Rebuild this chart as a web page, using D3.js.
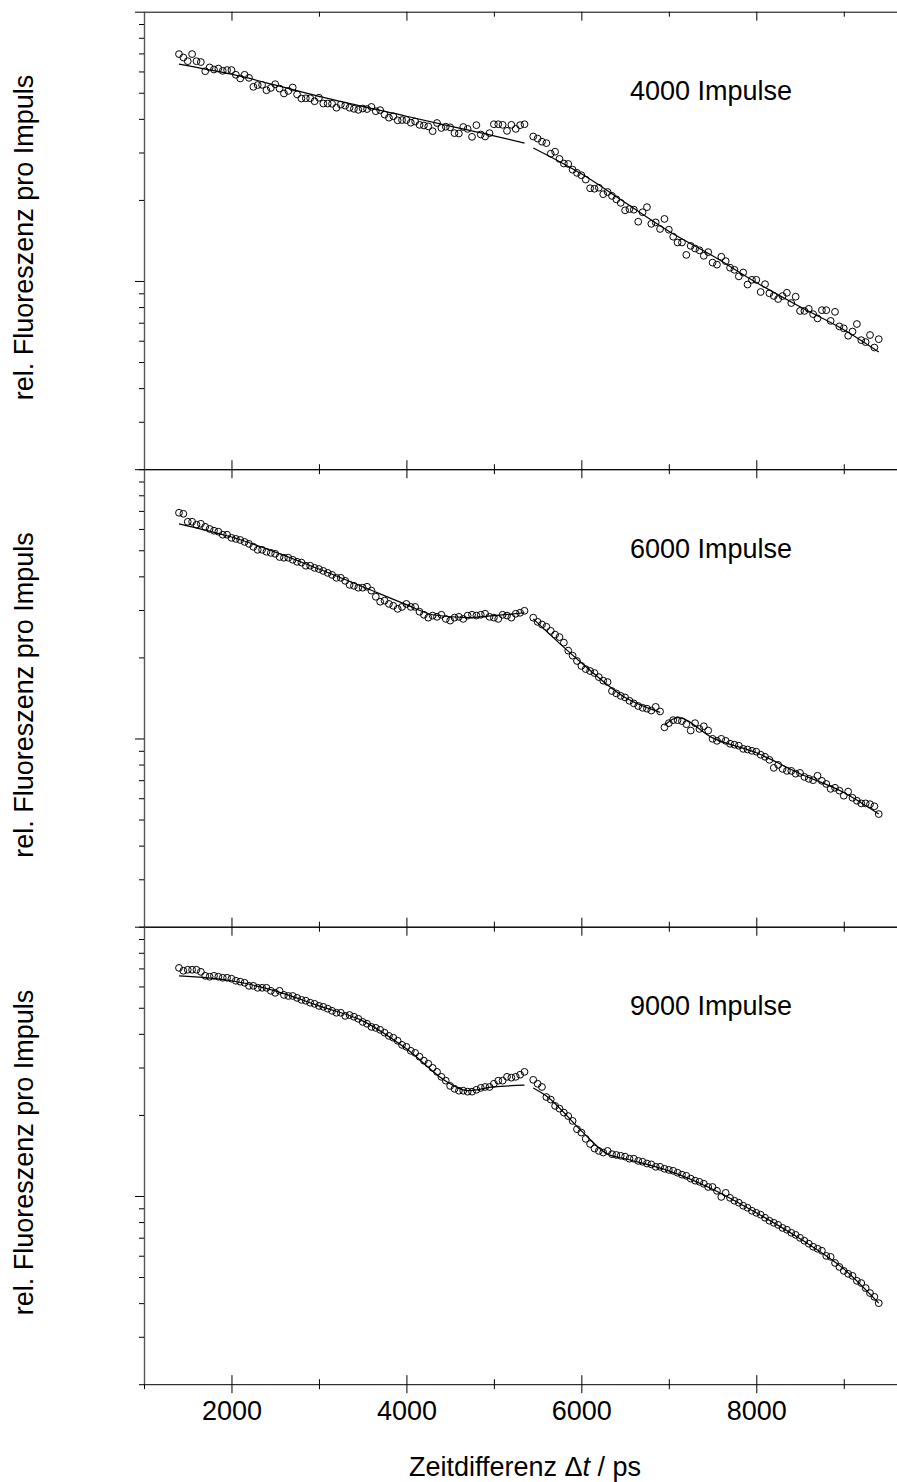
<!DOCTYPE html>
<html>
<head>
<meta charset="utf-8">
<script src="https://cdn.jsdelivr.net/npm/d3@7/dist/d3.min.js"></script>
<style>
	body { margin: 0; background: #fff; }
	svg { display: block; }
	text { font-family: "Liberation Sans", Arial, sans-serif; fill: #000; }
</style>
</head>
<body>
<svg id="chart" width="897" height="1482"></svg>
<script>
// measuring times (ps), one point every 50 ps
const times = [
	1400,1450,1500,1550,1600,1650,1700,1750,1800,1850,
	1900,1950,2000,2050,2100,2150,2200,2250,2300,2350,
	2400,2450,2500,2550,2600,2650,2700,2750,2800,2850,
	2900,2950,3000,3050,3100,3150,3200,3250,3300,3350,
	3400,3450,3500,3550,3600,3650,3700,3750,3800,3850,
	3900,3950,4000,4050,4100,4150,4200,4250,4300,4350,
	4400,4450,4500,4550,4600,4650,4700,4750,4800,4850,
	4900,4950,5000,5050,5100,5150,5200,5250,5300,5350,
	5400,5450,5500,5550,5600,5650,5700,5750,5800,5850,
	5900,5950,6000,6050,6100,6150,6200,6250,6300,6350,
	6400,6450,6500,6550,6600,6650,6700,6750,6800,6850,
	6900,6950,7000,7050,7100,7150,7200,7250,7300,7350,
	7400,7450,7500,7550,7600,7650,7700,7750,7800,7850,
	7900,7950,8000,8050,8100,8150,8200,8250,8300,8350,
	8400,8450,8500,8550,8600,8650,8700,8750,8800,8850,
	8900,8950,9000,9050,9100,9150,9200,9250,9300,9350,
	9400
]

// rel. fluorescence per pulse (null = no point)
const counts_4000 = [
	6.96,6.76,6.55,6.96,6.55,6.50,6.01,6.21,6.10,6.15,
	6.03,6.07,6.07,5.83,5.65,5.83,5.68,5.26,5.34,5.35,
	5.11,5.21,5.38,5.18,4.97,5.08,5.23,4.93,4.76,4.77,
	4.77,4.65,4.79,4.56,4.56,4.55,4.40,4.52,4.48,4.40,
	4.36,4.32,4.37,4.35,4.43,4.27,4.31,4.15,4.04,4.09,
	3.95,3.96,3.96,3.87,3.91,3.80,3.78,3.75,3.60,3.86,
	3.70,3.74,3.72,3.54,3.53,3.73,3.67,3.43,3.79,3.50,
	3.44,3.54,3.82,3.82,3.80,3.61,3.80,3.67,3.79,3.82,
	null,3.44,3.38,3.29,3.25,2.97,3.02,2.84,2.73,2.72,
	2.59,2.52,2.47,2.38,2.21,2.20,2.22,2.10,2.14,2.07,
	2.01,1.95,1.83,1.85,1.84,1.66,1.80,1.88,1.63,1.65,
	1.56,1.70,1.55,1.46,1.39,1.39,1.25,1.35,1.32,1.30,
	1.24,1.28,1.17,1.15,1.23,1.185,1.12,1.10,1.04,1.075,
	0.97,1.01,1.01,0.91,0.973,0.90,0.88,0.857,0.879,0.904,
	0.828,0.874,0.774,0.774,0.788,0.753,0.726,0.779,0.779,0.711,
	0.768,0.678,0.667,0.626,0.649,0.692,0.603,0.593,0.630,0.566,
	0.608
]

const counts_6000 = [
	6.89,6.83,6.38,6.38,6.22,6.27,6.11,6.00,5.91,5.86,
	5.71,5.71,5.56,5.51,5.46,5.37,5.28,5.15,5.02,5.02,
	4.935,4.89,4.85,4.72,4.69,4.69,4.61,4.53,4.50,4.38,
	4.38,4.30,4.26,4.19,4.12,4.05,3.95,3.95,3.85,3.72,
	3.69,3.63,3.63,3.66,3.54,3.36,3.22,3.25,3.16,3.11,
	3.03,3.08,3.16,3.08,3.08,2.955,2.88,2.81,2.86,2.83,
	2.88,2.78,2.74,2.81,2.83,2.78,2.86,2.88,2.86,2.88,
	2.905,2.83,2.81,2.78,2.88,2.86,2.81,2.905,2.93,2.98,
	null,2.81,2.71,2.65,2.60,2.51,2.43,2.38,2.27,2.12,
	2.03,1.94,1.86,1.81,1.78,1.75,1.69,1.64,1.62,1.50,
	1.47,1.44,1.42,1.38,1.35,1.32,1.30,1.29,1.27,1.31,
	1.26,1.10,1.14,1.17,1.17,1.16,1.13,1.07,1.14,1.085,
	1.11,1.07,0.997,0.98,0.997,0.98,0.956,0.948,0.94,0.915,
	0.91,0.90,0.893,0.87,0.855,0.833,0.778,0.798,0.771,0.758,
	0.758,0.74,0.745,0.72,0.708,0.70,0.727,0.696,0.678,0.65,
	0.656,0.64,0.613,0.635,0.602,0.587,0.574,0.574,0.57,0.56,
	0.524
]

const counts_9000 = [
	7.03,6.86,6.92,6.92,6.92,6.80,6.57,6.52,6.57,6.52,
	6.46,6.46,6.41,6.30,6.25,6.19,6.03,6.03,5.93,5.93,
	5.93,5.78,5.68,5.78,5.58,5.53,5.53,5.44,5.35,5.31,
	5.22,5.17,5.08,5.04,4.96,4.87,4.79,4.79,4.665,4.70,
	4.63,4.55,4.43,4.36,4.245,4.21,4.14,4.04,3.93,3.87,
	3.77,3.64,3.58,3.46,3.40,3.29,3.18,3.10,2.99,2.89,
	2.77,2.68,2.563,2.50,2.46,2.46,2.44,2.44,2.48,2.52,
	2.54,2.54,2.61,2.68,2.68,2.77,2.75,2.77,2.82,2.89,
	null,2.70,2.61,2.54,2.33,2.28,2.16,2.11,2.04,1.98,
	1.90,1.77,1.72,1.63,1.56,1.50,1.47,1.45,1.47,1.43,
	1.42,1.41,1.40,1.375,1.375,1.35,1.34,1.32,1.31,1.283,
	1.283,1.262,1.25,1.24,1.22,1.20,1.188,1.16,1.14,1.129,
	1.11,1.08,1.08,1.045,0.992,1.027,0.984,0.96,0.944,0.92,
	0.904,0.881,0.866,0.852,0.83,0.809,0.795,0.781,0.761,0.749,
	0.73,0.717,0.699,0.682,0.665,0.648,0.637,0.626,0.599,0.594,
	0.564,0.545,0.527,0.514,0.505,0.484,0.475,0.455,0.436,0.422,
	0.40
]

// fitted curves, [time, value], one list per unbroken piece
const fit_4000 = [
	[[1400,6.39],[2000,5.86],[3000,4.85],[4000,4.09],[4500,3.76],[5000,3.46],[5350,3.25]],
	[[5450,3.12],[5800,2.72],[6000,2.50],[6500,1.955],[7000,1.529],[7500,1.24],[8000,0.987],[8500,0.802],[9000,0.659],[9400,0.545]]
]
const fit_6000 = [
	[[1400,6.27],[2000,5.60],[3000,4.26],[3500,3.66],[4000,3.14],[4300,2.88],[4700,2.81],[5000,2.86],[5350,2.93]],
	[[5450,2.78],[6000,1.91],[6500,1.42],[6900,1.25]],
	[[6950,1.12],[7100,1.195],[7500,1.005],[8000,0.885],[8500,0.74],[9000,0.63],[9400,0.524]]
]
const fit_9000 = [
	[[1400,6.57],[2000,6.30],[2500,5.78],[3000,5.08],[3500,4.47],[4000,3.52],[4500,2.61],[4700,2.46],[5000,2.54],[5350,2.58]],
	[[5450,2.52],[5600,2.353],[6000,1.745],[6300,1.43],[6500,1.375],[7000,1.24],[7500,1.06],[8000,0.866],[8500,0.693],[9000,0.536],[9400,0.40]]
]

const panel_labels = ['4000 Impulse', '6000 Impulse', '9000 Impulse']
const x_major = [2000, 4000, 6000, 8000]
const x_minor = [1000, 3000, 5000, 7000, 9000]
const y_major = [1, 10]
const y_minor = [0.2,0.3,0.4,0.5,0.6,0.7,0.8,0.9,2,3,4,5,6,7,8,9]

const panels = [
	{ counts: counts_4000, fit: fit_4000, label: panel_labels[0] },
	{ counts: counts_6000, fit: fit_6000, label: panel_labels[1] },
	{ counts: counts_9000, fit: fit_9000, label: panel_labels[2] }
]

// layout
const top0 = 11.7
const panel_h = 457.5
const left = 144
const font_size = 27

const svg = d3.select('#chart')

const x = d3.scaleLinear()
	.domain([1000, 9620])
	.range([left, 898])

function style_axis(g, keep_domain){
	g.selectAll('.tick line').attr('stroke', '#000').attr('stroke-width', 1)
	if (!keep_domain) g.select('.domain').remove()
	else g.select('.domain').attr('stroke', '#000').attr('stroke-width', 1)
}

panels.forEach(function (p, k) {
	const top = top0 + k * panel_h
	const bottom = top + panel_h

	const y = d3.scaleLog()
		.domain([0.2, 10])
		.range([bottom, top])

	const g = svg.append('g')

	// top edge: ticks pointing down into the panel
	g.append('g')
		.attr('transform', 'translate(0,' + top + ')')
		.call(d3.axisBottom(x).tickValues(x_major).tickSize(9).tickSizeOuter(0).tickFormat(''))
		.call(a => style_axis(a, true))
	g.append('g')
		.attr('transform', 'translate(0,' + top + ')')
		.call(d3.axisBottom(x).tickValues(x_minor).tickSize(5).tickFormat(''))
		.call(a => style_axis(a, false))

	// bottom edge: ticks pointing up
	g.append('g')
		.attr('transform', 'translate(0,' + bottom + ')')
		.call(d3.axisTop(x).tickValues(x_major).tickSize(9).tickSizeOuter(0).tickFormat(''))
		.call(a => style_axis(a, true))
	g.append('g')
		.attr('transform', 'translate(0,' + bottom + ')')
		.call(d3.axisTop(x).tickValues(x_minor).tickSize(5).tickFormat(''))
		.call(a => style_axis(a, false))

	// left axis, log scale, no labels
	g.append('g')
		.attr('transform', 'translate(' + left + ',0)')
		.call(d3.axisLeft(y).tickValues(y_major).tickSize(9).tickSizeOuter(0).tickFormat(''))
		.call(function (a) {
			a.selectAll('.tick line').attr('stroke', '#000')
			a.select('.domain').attr('stroke', '#555').attr('stroke-width', 1.4)
		})
	g.append('g')
		.attr('transform', 'translate(' + left + ',0)')
		.call(d3.axisLeft(y).tickValues(y_minor).tickSize(5).tickFormat(''))
		.call(a => style_axis(a, false))

	// fitted curve pieces
	const line = d3.line()
		.x(d => x(d[0]))
		.y(d => y(d[1]))
		.curve(d3.curveMonotoneX)

	p.fit.forEach(function (piece) {
		g.append('path')
			.attr('d', line(piece))
			.attr('fill', 'none')
			.attr('stroke', '#000')
			.attr('stroke-width', 1.2)
	})

	// measured points
	const pts = times.map((t, i) => [t, p.counts[i]]).filter(d => d[1] != null)
	g.selectAll('circle.pt')
		.data(pts)
		.enter()
		.append('circle')
		.attr('class', 'pt')
		.attr('cx', d => x(d[0]))
		.attr('cy', d => y(d[1]))
		.attr('r', 3.4)
		.attr('fill', 'none')
		.attr('stroke', '#000')
		.attr('stroke-width', 1)

	g.append('text')
		.attr('x', 630)
		.attr('y', top + 88.3)
		.attr('font-size', font_size)
		.text(p.label)

	g.append('text')
		.attr('transform', 'translate(33,' + (top + 225.8) + ') rotate(-90)')
		.attr('text-anchor', 'middle')
		.attr('font-size', font_size)
		.text('rel. Fluoreszenz pro Impuls')

	// bottom panel: ticks also below, with labels
	if (k == panels.length - 1){
		g.append('g')
			.attr('transform', 'translate(0,' + bottom + ')')
			.call(d3.axisBottom(x).tickValues(x_major).tickSize(9).tickPadding(8).tickSizeOuter(0).tickFormat(d3.format('d')))
			.call(function (a) {
				style_axis(a, false)
				a.selectAll('text')
					.attr('font-size', font_size)
					.attr('font-family', '"Liberation Sans", Arial, sans-serif')
					.attr('fill', '#000')
			})
		g.append('g')
			.attr('transform', 'translate(0,' + bottom + ')')
			.call(d3.axisBottom(x).tickValues(x_minor).tickSize(5).tickFormat(''))
			.call(a => style_axis(a, false))
	}
})

// x axis title
const title = svg.append('text')
	.attr('x', 525)
	.attr('y', 1475.7)
	.attr('text-anchor', 'middle')
	.attr('font-size', font_size)
title.append('tspan').text('Zeitdifferenz \u0394')
title.append('tspan').attr('font-style', 'italic').text('t')
title.append('tspan').text(' / ps')
</script>
</body>
</html>
